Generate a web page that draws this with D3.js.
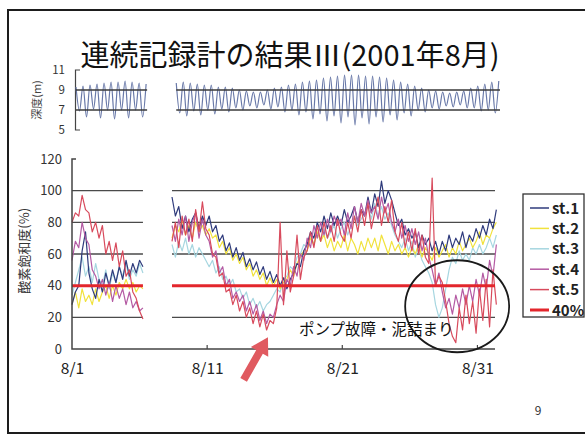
<!DOCTYPE html>
<html>
<head>
<meta charset="utf-8">
<script src="https://cdn.jsdelivr.net/npm/d3@7"></script>
<style>
body { margin: 0; background: #fff; }
svg { display: block; }
text { font-family: "Noto Sans CJK JP", "Noto Sans", sans-serif; }
</style>
</head>
<body>
<svg id="chart" width="585" height="435"></svg>
<script>
// ---- data ----
var seriesNames = ["st.1", "st.2", "st.3", "st.4", "st.5"];
var dayTicks = [0, 10, 20, 30];
var dayLabels = ["8/1", "8/11", "8/21", "8/31"];
var o2Ticks = [0, 20, 40, 60, 80, 100, 120];
var depthTicks = [5, 7, 9, 11];
var limitValue = 40;

// two recording periods (days after 8/1)
var seg1Start = 0, seg1End = 5.25;
var seg2Start = 7.4, seg2End = 31.3;
var o2Step = 0.25;      // one reading every 6 h
var tideStep = 0.2588;  // high / low water every ~6.2 h

// depth (m), alternate high / low water
var depth1 = [9.3, 6.9, 9.4, 6.3, 9.5, 7.1, 9.6, 6.2, 9.7, 7.0, 9.8, 6.1, 9.8, 7.0, 9.9, 6.2, 9.8, 7.0, 9.7, 6.3, 9.6];
var depth2 = [9.7, 6.7, 9.8, 6.4, 9.7, 6.9, 9.6, 6.5, 9.5, 7.0, 9.5, 6.6, 9.3, 7.1, 9.3, 6.8,
    9.2, 7.2, 9.0, 7.0, 8.9, 7.4, 8.8, 7.2, 8.8, 7.5, 9.0, 7.1, 9.2, 7.3, 9.3, 6.8,
    9.5, 7.0, 9.6, 6.5, 9.8, 6.8, 9.9, 6.1, 10.0, 6.6, 10.2, 5.9, 10.3, 6.4, 10.4, 5.7,
    10.5, 6.3, 10.5, 5.5, 10.5, 6.2, 10.4, 5.6, 10.4, 6.3, 10.3, 5.8, 10.2, 6.5, 10.0, 6.0,
    9.8, 6.7, 9.6, 6.4, 9.4, 7.0, 9.2, 6.8, 9.0, 7.2, 8.9, 7.1, 8.8, 7.4, 8.7, 7.3,
    8.8, 7.5, 8.9, 7.2, 9.2, 7.2, 9.4, 6.9, 9.6, 7.0, 9.8, 6.7, 9.9];

// oxygen saturation (%), period 1
var st1a = [28, 36, 40, 62, 74, 48, 38, 32, 44, 36, 48, 40, 50, 42, 52, 44, 56, 46, 54, 48, 56, 52];
var st2a = [28, 36, 26, 38, 30, 34, 28, 38, 30, 36, 40, 32, 40, 34, 42, 38, 44, 38, 42, 36, 40, 38];
var st3a = [34, 42, 50, 58, 46, 52, 42, 54, 44, 40, 50, 38, 48, 42, 52, 46, 54, 44, 50, 46, 54, 48];
var st4a = [56, 68, 64, 80, 70, 66, 50, 46, 38, 44, 34, 42, 30, 40, 32, 38, 28, 36, 26, 30, 24, 26];
var st5a = [80, 86, 84, 97, 88, 86, 74, 80, 70, 78, 60, 68, 56, 67, 52, 62, 46, 50, 36, 32, 24, 19];

// oxygen saturation (%), period 2
var st1b = [96, 84, 90, 76, 84, 74, 82, 86, 76, 84,
    78, 84, 74, 78, 68, 72, 62, 67, 58, 64,
    56, 61, 52, 57, 50, 55, 47, 52, 44, 49,
    42, 47, 40, 45, 38, 44, 48, 54, 52, 62,
    66, 74, 70, 80, 74, 84, 76, 86, 78, 84,
    78, 88, 80, 84, 90, 80, 88, 84, 96, 86,
    98, 90, 106, 92, 100, 94, 86, 78, 82, 72,
    76, 70, 74, 64, 72, 66, 70, 62, 68, 60,
    68, 62, 72, 64, 70, 66, 74, 64, 72, 68,
    76, 70, 78, 72, 82, 76, 88];
var st2b = [70, 78, 74, 82, 72, 78, 70, 80, 74, 78,
    72, 76, 70, 72, 64, 68, 60, 64, 56, 60,
    54, 58, 50, 54, 46, 50, 44, 48, 40, 45,
    40, 44, 38, 42, 44, 50, 46, 54, 58, 62,
    62, 70, 66, 74, 68, 72, 64, 70, 62, 68,
    64, 72, 62, 70, 66, 60, 68, 62, 70, 64,
    70, 62, 72, 66, 60, 68, 62, 66, 60, 64,
    58, 64, 60, 66, 58, 64, 60, 56, 64, 58,
    62, 66, 58, 64, 60, 68, 62, 66, 70, 64,
    68, 74, 66, 72, 70, 76, 80];
var st3b = [66, 58, 68, 62, 70, 60, 66, 58, 64, 60,
    56, 52, 56, 48, 52, 44, 46, 40, 44, 36,
    38, 32, 36, 28, 32, 26, 30, 24, 28, 30,
    34, 38, 36, 44, 46, 52, 50, 58, 60, 66,
    64, 72, 66, 74, 68, 76, 70, 74, 78, 70,
    76, 80, 72, 78, 84, 78, 82, 86, 90, 82,
    92, 84, 90, 82, 86, 78, 72, 68, 64, 70,
    62, 68, 58, 64, 56, 52, 48, 42, 28, 20,
    26, 38, 50, 58, 54, 62, 56, 60, 56, 64,
    60, 66, 60, 64, 70, 64, 72];
var st4b = [78, 68, 82, 72, 84, 68, 80, 86, 70, 82,
    72, 68, 58, 62, 48, 52, 40, 44, 32, 36,
    30, 34, 24, 30, 22, 28, 18, 24, 16, 22,
    20, 28, 34, 30, 44, 40, 52, 46, 60, 56,
    70, 64, 78, 70, 80, 72, 82, 74, 84, 78,
    82, 72, 86, 76, 90, 80, 92, 84, 94, 86,
    90, 82, 96, 86, 92, 80, 74, 82, 70, 78,
    68, 76, 66, 74, 62, 70, 58, 50, 40, 48,
    36, 26, 32, 22, 34, 26, 38, 28, 40, 30,
    44, 34, 48, 38, 56, 46, 66];
var st5b = [68, 80, 64, 84, 72, 82, 68, 88, 74, 93,
    76, 72, 60, 58, 46, 48, 36, 38, 28, 34,
    24, 30, 20, 26, 16, 24, 14, 22, 12, 18,
    16, 26, 80, 28, 62, 36, 46, 72, 44, 58,
    62, 74, 64, 78, 68, 80, 70, 78, 68, 82,
    72, 68, 80, 70, 84, 74, 88, 78, 92, 76,
    86, 96, 78, 90, 80, 94, 74, 68, 80, 64,
    74, 62, 76, 60, 72, 58, 54, 108, 40, 46,
    42, 30, 16, 8, 4, 26, 12, 34, 16, 30,
    10, 38, 18, 44, 14, 50, 28];

// ---- styles ----
var colors = { "st.1": "#2f3b7c", "st.2": "#f1e23c", "st.3": "#a6d6e0", "st.4": "#b45aa3", "st.5": "#d84a5c" };
var drawOrder = ["st.3", "st.2", "st.1", "st.4", "st.5"];
var o2Data = {
    "st.1": [st1a, st1b], "st.2": [st2a, st2b], "st.3": [st3a, st3b],
    "st.4": [st4a, st4b], "st.5": [st5a, st5b]
};
var segs = [[seg1Start, seg1End], [seg2Start, seg2End]];

var svg = d3.select("#chart");

// slide frame + title
svg.append("rect")
    .attr("x", 8).attr("y", 10).attr("width", 620).attr("height", 423)
    .attr("fill", "none").attr("stroke", "#1d1d1d").attr("stroke-width", 2);

svg.append("text")
    .attr("x", 290).attr("y", 66)
    .attr("text-anchor", "middle")
    .attr("font-size", 29)
    .attr("fill", "#111")
    .text("連続記録計の結果Ⅲ(2001年8月)");

// ---- depth chart ----
var xd = d3.scaleLinear().domain([0, 31.3]).range([76, 500]);
var yd = d3.scaleLinear().domain([5, 11]).range([130, 70]);

var gd = svg.append("g");
gd.append("path")
    .attr("d", "M" + (xd(0) + 4) + "," + yd(11) + "H" + (xd(0) - 0.5) + "V" + yd(5) + "H" + (xd(0) + 4))
    .attr("fill", "none").attr("stroke", "#444").attr("stroke-width", 1.2);

var depthAxis = gd.append("g")
    .attr("transform", "translate(" + xd(0) + ",0)")
    .call(d3.axisLeft(yd).tickValues(depthTicks).tickSize(0).tickPadding(11).tickFormat(d3.format("d")));
depthAxis.select(".domain").remove();
depthAxis.selectAll("text").attr("font-size", 11.5).attr("fill", "#333")
    .style("font-family", "'Noto Sans CJK JP', sans-serif");

gd.append("text")
    .attr("transform", "translate(41," + yd(8) + ") rotate(-90)")
    .attr("text-anchor", "middle")
    .attr("font-size", 11).attr("fill", "#444")
    .text("深度(m)");

var depthLine = d3.line()
    .x(function (d) { return xd(d[0]); })
    .y(function (d) { return yd(d[1]); })
    .curve(d3.curveMonotoneX);

[[depth1, seg1Start], [depth2, seg2Start]].forEach(function (s) {
    var pts = s[0].map(function (v, i) { return [s[1] + i * tideStep, v]; });
    gd.append("path")
        .attr("d", depthLine(pts))
        .attr("fill", "none").attr("stroke", "#6878a8").attr("stroke-width", 1.2);
});

[9, 7].forEach(function (v) {
    segs.forEach(function (s) {
        gd.append("line")
            .attr("x1", xd(s[0])).attr("x2", xd(s[1]))
            .attr("y1", yd(v)).attr("y2", yd(v))
            .attr("stroke", "#3a3a3a").attr("stroke-width", 1.3);
    });
});

// ---- oxygen chart ----
var x = d3.scaleLinear().domain([0, 31.3]).range([72, 495]);
var y = d3.scaleLinear().domain([0, 120]).range([349, 159]);

var g = svg.append("g");

// gridlines
[20, 60, 80, 100].forEach(function (v) {
    segs.forEach(function (s) {
        g.append("line")
            .attr("x1", x(s[0])).attr("x2", x(s[1]))
            .attr("y1", y(v)).attr("y2", y(v))
            .attr("stroke", "#4a4a4a").attr("stroke-width", 1.4);
    });
});

// series
var line = d3.line()
    .x(function (d) { return x(d[0]); })
    .y(function (d) { return y(d[1]); });

drawOrder.forEach(function (name) {
    o2Data[name].forEach(function (arr, k) {
        var start = k === 0 ? seg1Start : seg2Start;
        var pts = arr.map(function (v, i) { return [start + i * o2Step, v]; });
        g.append("path")
            .attr("d", line(pts))
            .attr("fill", "none")
            .attr("stroke", colors[name])
            .attr("stroke-width", 1.2)
            .attr("stroke-linejoin", "round");
    });
});

// 40% line
segs.forEach(function (s) {
    g.append("line")
        .attr("x1", x(s[0])).attr("x2", x(s[1]))
        .attr("y1", y(limitValue)).attr("y2", y(limitValue))
        .attr("stroke", "#e3262c").attr("stroke-width", 3);
});

// axes
g.append("path")
    .attr("d", "M" + (x(0) + 4) + "," + y(120) + "H" + x(0) + "V" + y(0) + "H" + x(31.3))
    .attr("fill", "none").attr("stroke", "#444").attr("stroke-width", 1.5);
dayTicks.slice(1).forEach(function (d) {
    g.append("line")
        .attr("x1", x(d)).attr("x2", x(d))
        .attr("y1", y(0)).attr("y2", y(0) - 4)
        .attr("stroke", "#444").attr("stroke-width", 1.2);
});

var yAxis = g.append("g")
    .attr("transform", "translate(" + x(0) + ",0)")
    .call(d3.axisLeft(y).tickValues(o2Ticks).tickSize(0).tickPadding(10));
yAxis.select(".domain").remove();
yAxis.selectAll("text").attr("font-size", 13).attr("fill", "#333")
    .style("font-family", "'Noto Sans CJK JP', sans-serif");

var xAxis = g.append("g")
    .attr("transform", "translate(0," + y(0) + ")")
    .call(d3.axisBottom(x).tickValues(dayTicks).tickSize(0).tickPadding(14)
        .tickFormat(function (d, i) { return dayLabels[i]; }));
xAxis.select(".domain").remove();
xAxis.selectAll("text").attr("font-size", 15.5).attr("fill", "#222")
    .style("font-family", "'Noto Sans CJK JP', sans-serif");

g.append("text")
    .attr("transform", "translate(29," + y(62) + ") rotate(-90)")
    .attr("text-anchor", "middle")
    .attr("font-size", 13).attr("fill", "#333")
    .text("酸素飽和度(%)");

// legend
var legend = svg.append("g").attr("transform", "translate(523,194)");
legend.append("rect")
    .attr("width", 61).attr("height", 123)
    .attr("fill", "#fff").attr("stroke", "#333").attr("stroke-width", 1.3);
var legendItems = seriesNames.concat(["40%"]);
legendItems.forEach(function (name, i) {
    var ly = 14 + i * 20.4;
    legend.append("line")
        .attr("x1", 7).attr("x2", 26).attr("y1", ly).attr("y2", ly)
        .attr("stroke", name === "40%" ? "#e3262c" : colors[name])
        .attr("stroke-width", name === "40%" ? 3 : 1.5);
    legend.append("text")
        .attr("x", 29).attr("y", ly + 5.5)
        .attr("font-size", 15).attr("font-weight", "bold").attr("fill", "#222")
        .text(name);
});

// annotations
var ann = svg.append("g");
ann.append("ellipse")
    .attr("cx", x(28.5)).attr("cy", y(27))
    .attr("rx", 52).attr("ry", 46)
    .attr("fill", "none").attr("stroke", "#1a1a1a").attr("stroke-width", 1.8);

ann.append("text")
    .attr("x", 299).attr("y", y(9))
    .attr("font-size", 15.5).attr("fill", "#111")
    .text("ポンプ故障・泥詰まり");

// red arrow pointing to the low
var tip = [x(14.5), y(7.5)], tail = [x(12.7), y(-19.5)];
var dx = tip[0] - tail[0], dy = tip[1] - tail[1];
var len = Math.sqrt(dx * dx + dy * dy);
var ux = dx / len, uy = dy / len, px = -uy, py = ux;
var headLen = 17, headW = 10, shaftW = 3.8;
var bx = tip[0] - ux * headLen, by = tip[1] - uy * headLen;
var arrowPts = [
    [tail[0] + px * shaftW, tail[1] + py * shaftW],
    [bx + px * shaftW, by + py * shaftW],
    [bx + px * headW, by + py * headW],
    tip,
    [bx - px * headW, by - py * headW],
    [bx - px * shaftW, by - py * shaftW],
    [tail[0] - px * shaftW, tail[1] - py * shaftW]
];
ann.append("polygon")
    .attr("points", arrowPts.map(function (p) { return p.join(","); }).join(" "))
    .attr("fill", "#e05a60");

// page number
svg.append("text")
    .attr("x", 538).attr("y", 415)
    .attr("text-anchor", "middle")
    .attr("font-size", 12).attr("fill", "#333")
    .text("9");
</script>
</body>
</html>
